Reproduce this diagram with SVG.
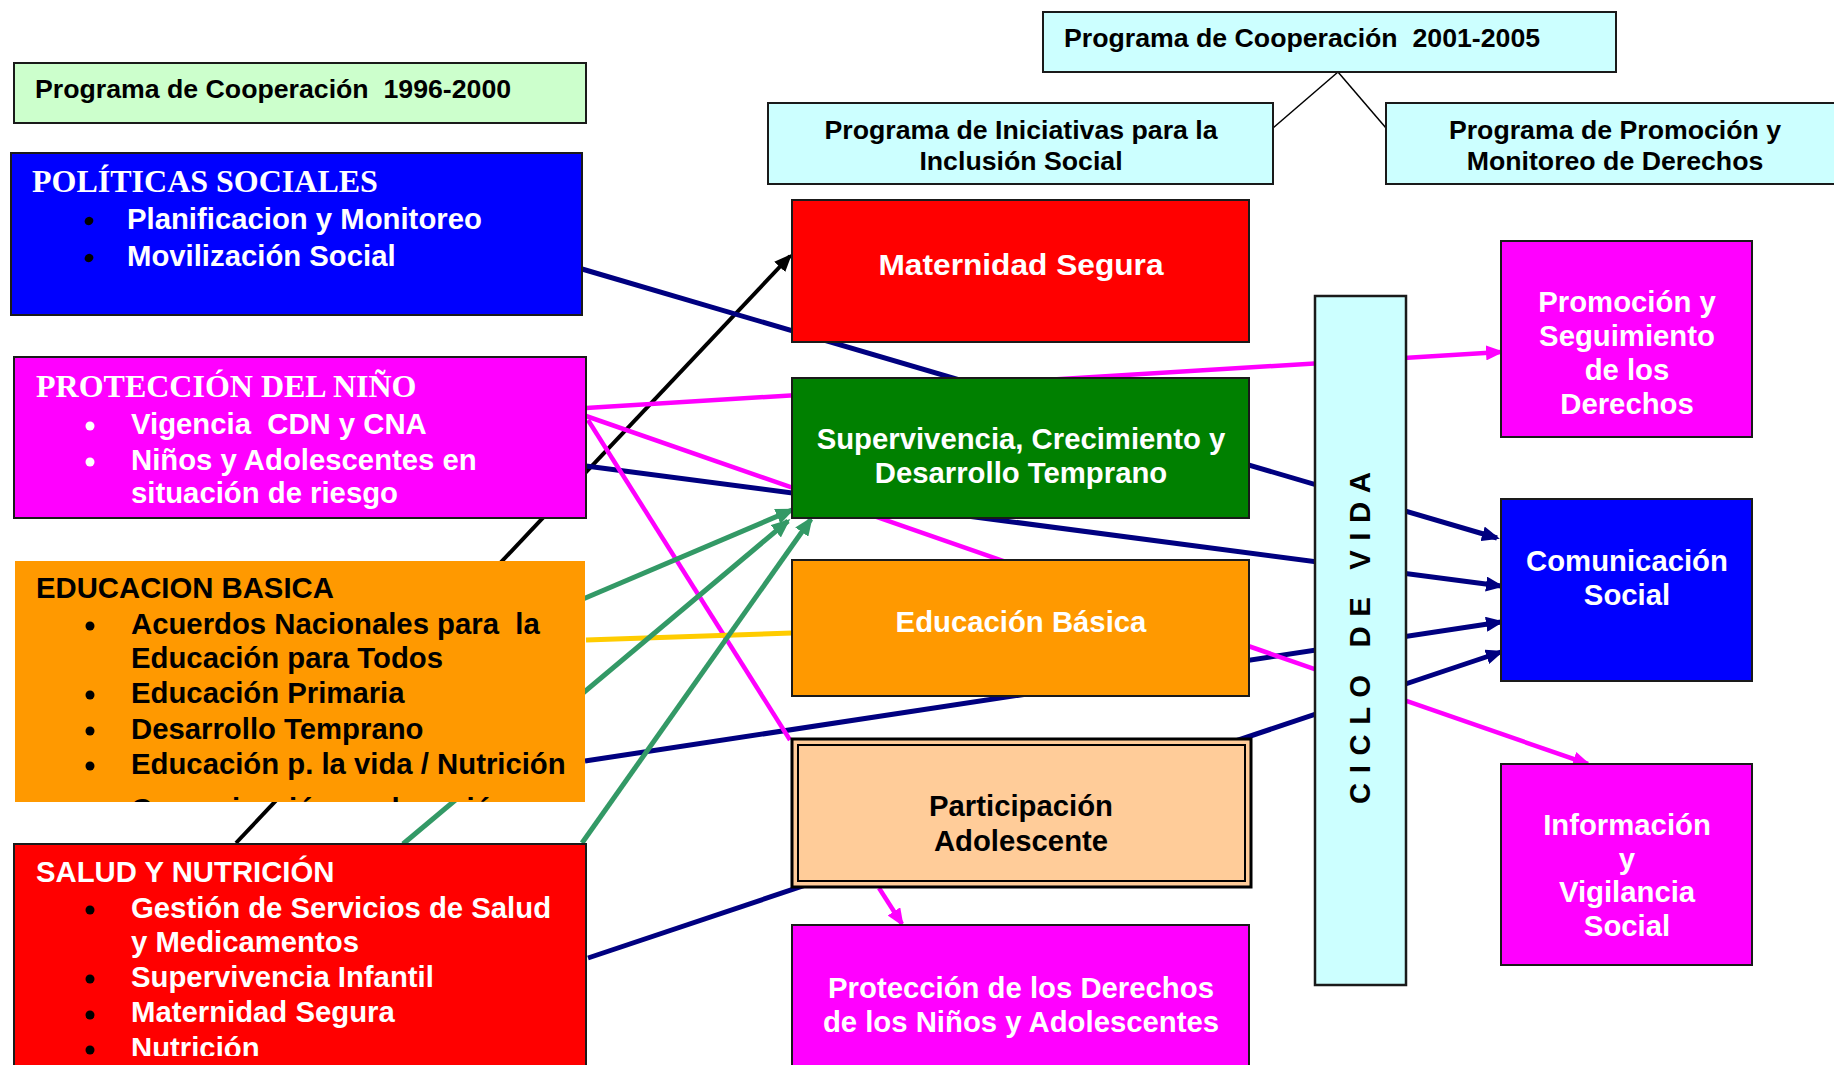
<svg xmlns="http://www.w3.org/2000/svg" width="1834" height="1065" viewBox="0 0 1834 1065">
<defs>
<style>
.t{font-family:"Liberation Sans",Arial,sans-serif;font-weight:bold}
.s{font-family:"Liberation Serif","Times New Roman",serif;font-weight:bold;font-size:32px}
.w{fill:#fff}
.k{fill:#000}
.h{font-size:26.7px}
.m{font-size:29.3px}
.c{text-anchor:middle}
.bx{stroke:#1a1a1a;stroke-width:2}
.nv{stroke:#000080;stroke-width:5;fill:none}
.mg{stroke:#FF00FF;stroke-width:4.5;fill:none}
.gr{stroke:#339966;stroke-width:5;fill:none}
.bk{stroke:#000;stroke-width:4;fill:none}
.gd{stroke:#FFCC00;stroke-width:5;fill:none}
.tr{stroke:#000;stroke-width:1.5;fill:none}
</style>
<marker id="aN" markerUnits="userSpaceOnUse" markerWidth="18" markerHeight="15" refX="15" refY="7.5" orient="auto"><path d="M0,0 L18,7.5 L0,15 Z" fill="#000080"/></marker>
<marker id="aM" markerUnits="userSpaceOnUse" markerWidth="18" markerHeight="15" refX="15" refY="7.5" orient="auto"><path d="M0,0 L18,7.5 L0,15 Z" fill="#FF00FF"/></marker>
<marker id="aG" markerUnits="userSpaceOnUse" markerWidth="19" markerHeight="16" refX="16" refY="8" orient="auto"><path d="M0,0 L19,8 L0,16 Z" fill="#339966"/></marker>
<marker id="aK" markerUnits="userSpaceOnUse" markerWidth="18" markerHeight="15" refX="15" refY="7.5" orient="auto"><path d="M0,0 L18,7.5 L0,15 Z" fill="#000"/></marker>
<clipPath id="clipOr"><rect x="15" y="561" width="570" height="241"/></clipPath>
<clipPath id="clipRed"><rect x="14" y="844" width="572" height="212"/></clipPath>
</defs>
<rect width="1834" height="1065" fill="#fff"/>

<g id="connectors">
<line class="tr" x1="1338" y1="72" x2="1273" y2="128"/>
<line class="tr" x1="1338" y1="72" x2="1386" y2="128"/>
<line class="bk" x1="236" y1="843" x2="790" y2="256" marker-end="url(#aK)"/>
<line class="nv" x1="582" y1="269" x2="1497" y2="538" marker-end="url(#aN)"/>
<line class="nv" x1="586" y1="466" x2="1501" y2="586" marker-end="url(#aN)"/>
<line class="nv" x1="585" y1="761" x2="1501" y2="622" marker-end="url(#aN)"/>
<line class="nv" x1="588" y1="958" x2="1501" y2="652" marker-end="url(#aN)"/>
<line class="mg" x1="586" y1="408" x2="1501" y2="352" marker-end="url(#aM)"/>
<line class="mg" x1="586" y1="416" x2="1588" y2="764" marker-end="url(#aM)"/>
<line class="mg" x1="588" y1="420" x2="790" y2="740"/>
<line class="mg" x1="879" y1="888" x2="902" y2="924" marker-end="url(#aM)"/>
<line class="gd" x1="586" y1="640" x2="792" y2="633"/>
<line class="gr" x1="583" y1="599" x2="792" y2="510" marker-end="url(#aG)"/>
<line class="gr" x1="403" y1="844" x2="788" y2="521" marker-end="url(#aG)"/>
<line class="gr" x1="582" y1="843" x2="811" y2="519" marker-end="url(#aG)"/>
</g>

<g id="prog1996">
<rect x="14" y="63" width="572" height="60" fill="#CCFFCC" class="bx"/>
<text class="t h k" x="35" y="98" xml:space="preserve">Programa de Cooperación  1996-2000</text>
</g>

<g id="politicas">
<rect x="11" y="153" width="571" height="162" fill="#0000FF" class="bx"/>
<text class="s w" x="32" y="192">POLÍTICAS SOCIALES</text>
<ellipse cx="89" cy="221" rx="4.5" ry="4" transform="rotate(-30 89 221)" fill="#000"/>
<ellipse cx="89" cy="258" rx="4.5" ry="4" transform="rotate(-30 89 258)" fill="#000"/>
<text class="t m w" x="127" y="229">Planificacion y Monitoreo</text>
<text class="t m w" x="127" y="266">Movilización Social</text>
</g>

<g id="proteccion">
<rect x="14" y="357" width="572" height="161" fill="#FF00FF" class="bx"/>
<text class="s w" x="36" y="397">PROTECCIÓN DEL NIÑO</text>
<circle cx="90" cy="426" r="4.5" fill="#fff"/>
<circle cx="90" cy="462" r="4.5" fill="#fff"/>
<text class="t m w" x="131" y="434" xml:space="preserve">Vigencia  CDN y CNA</text>
<text class="t m w" x="131" y="470">Niños y Adolescentes en</text>
<text class="t m w" x="131" y="503">situación de riesgo</text>
</g>

<g id="educacion">
<rect x="15" y="561" width="570" height="241" fill="#FF9900"/>
<g clip-path="url(#clipOr)">
<text class="t m k" x="36" y="598">EDUCACION BASICA</text>
<circle cx="90" cy="626" r="4.5" fill="#000"/>
<circle cx="90" cy="695" r="4.5" fill="#000"/>
<circle cx="90" cy="731" r="4.5" fill="#000"/>
<circle cx="90" cy="766" r="4.5" fill="#000"/>
<text class="t m k" x="131" y="634" xml:space="preserve">Acuerdos Nacionales para  la</text>
<text class="t m k" x="131" y="668">Educación para Todos</text>
<text class="t m k" x="131" y="703">Educación Primaria</text>
<text class="t m k" x="131" y="739">Desarrollo Temprano</text>
<text class="t m k" x="131" y="774">Educación p. la vida / Nutrición</text>
<text class="t m k" x="131" y="819">Comunicación y educación</text>
</g>
</g>

<g id="salud">
<rect x="14" y="844" width="572" height="230" fill="#FF0000" class="bx"/>
<g clip-path="url(#clipRed)">
<text class="t m w" x="36" y="882">SALUD Y NUTRICIÓN</text>
<circle cx="90" cy="910" r="4.5" fill="#000"/>
<circle cx="90" cy="979" r="4.5" fill="#000"/>
<circle cx="90" cy="1015" r="4.5" fill="#000"/>
<circle cx="90" cy="1050" r="4.5" fill="#000"/>
<text class="t m w" x="131" y="918">Gestión de Servicios de Salud</text>
<text class="t m w" x="131" y="952">y Medicamentos</text>
<text class="t m w" x="131" y="987">Supervivencia Infantil</text>
<text class="t m w" x="131" y="1022">Maternidad Segura</text>
<text class="t m w" x="131" y="1058">Nutrición</text>
</g>
</g>

<g id="prog2001">
<rect x="1043" y="12" width="573" height="60" fill="#CCFFFF" class="bx"/>
<text class="t h k" x="1064" y="47" xml:space="preserve">Programa de Cooperación  2001-2005</text>
</g>

<g id="iniciativas">
<rect x="768" y="103" width="505" height="81" fill="#CCFFFF" class="bx"/>
<text class="t h k c" x="1021" y="139">Programa de Iniciativas para la</text>
<text class="t h k c" x="1021" y="170">Inclusión Social</text>
</g>

<g id="promocionMonitoreo">
<rect x="1386" y="103" width="460" height="81" fill="#CCFFFF" class="bx"/>
<text class="t h k c" x="1615" y="139">Programa de Promoción y</text>
<text class="t h k c" x="1615" y="170">Monitoreo de Derechos</text>
</g>

<g id="maternidad">
<rect x="792" y="200" width="457" height="142" fill="#FF0000" class="bx"/>
<text class="t m w c" x="1021" y="275" textLength="285" lengthAdjust="spacingAndGlyphs">Maternidad Segura</text>
</g>

<g id="supervivencia">
<rect x="792" y="378" width="457" height="140" fill="#008000" class="bx"/>
<text class="t m w c" x="1021" y="449">Supervivencia, Crecimiento y</text>
<text class="t m w c" x="1021" y="483">Desarrollo Temprano</text>
</g>

<g id="educacionBasica">
<rect x="792" y="560" width="457" height="136" fill="#FF9900" class="bx"/>
<text class="t m w c" x="1021" y="632">Educación Básica</text>
</g>

<g id="participacion">
<rect x="792" y="739" width="459" height="148" fill="#FFCC99" stroke="#000" stroke-width="3"/>
<rect x="798" y="745" width="447" height="136" fill="none" stroke="#000" stroke-width="2"/>
<text class="t m k c" x="1021" y="816">Participación</text>
<text class="t m k c" x="1021" y="851">Adolescente</text>
</g>

<g id="proteccionDerechos">
<rect x="792" y="925" width="457" height="160" fill="#FF00FF" class="bx"/>
<text class="t m w c" x="1021" y="998">Protección de los Derechos</text>
<text class="t m w c" x="1021" y="1032">de los Niños y Adolescentes</text>
</g>

<g id="cicloVida">
<rect x="1315" y="296" width="91" height="689" fill="#CCFFFF" stroke="#1a1a1a" stroke-width="2.5"/>
<text class="t m k c" transform="translate(1370,638) rotate(-90)" x="0" y="0" textLength="332" lengthAdjust="spacing" xml:space="preserve">C I C L O   D E   V I D A</text>
</g>

<g id="promocionSeguimiento">
<rect x="1501" y="241" width="251" height="196" fill="#FF00FF" class="bx"/>
<text class="t m w c" x="1627" y="312">Promoción y</text>
<text class="t m w c" x="1627" y="346">Seguimiento</text>
<text class="t m w c" x="1627" y="380">de los</text>
<text class="t m w c" x="1627" y="414">Derechos</text>
</g>

<g id="comunicacion">
<rect x="1501" y="499" width="251" height="182" fill="#0000FF" class="bx"/>
<text class="t m w c" x="1627" y="571">Comunicación</text>
<text class="t m w c" x="1627" y="605">Social</text>
</g>

<g id="informacion">
<rect x="1501" y="764" width="251" height="201" fill="#FF00FF" class="bx"/>
<text class="t m w c" x="1627" y="835">Información</text>
<text class="t m w c" x="1627" y="869">y</text>
<text class="t m w c" x="1627" y="902">Vigilancia</text>
<text class="t m w c" x="1627" y="936">Social</text>
</g>
</svg>
